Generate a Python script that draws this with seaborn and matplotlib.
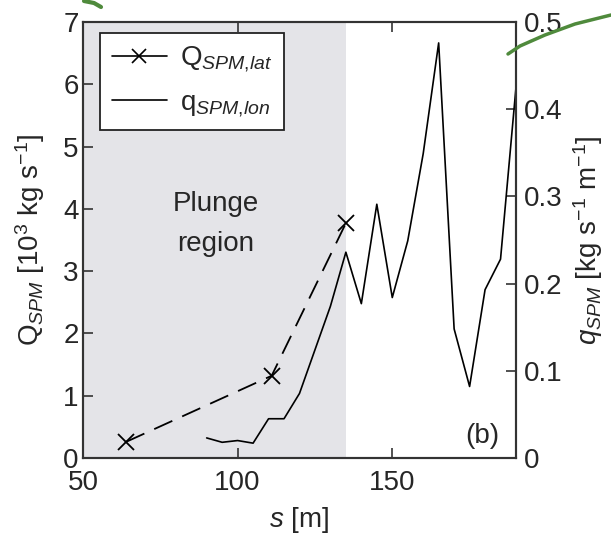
import numpy as np
import pandas as pd
import matplotlib
matplotlib.use('Agg')
import matplotlib.pyplot as plt
import matplotlib.ticker as ticker
from matplotlib.lines import Line2D
import seaborn as sns

# ==========================================
# Data
# ==========================================
# lateral SPM input Q_SPM,lat  [10^3 kg s^-1]
s_lat = [64, 111, 135]
Q_lat = [0.26, 1.32, 3.77]

# longitudinal SPM flux q_SPM,lon  [kg s^-1 m^-1]
s_lon = [90, 95, 100, 105, 110, 115, 120, 130, 135, 140,
         145, 150, 155, 160, 165, 170, 175, 180, 185, 190]
q_lon = [0.023, 0.018, 0.020, 0.017, 0.045, 0.045, 0.074, 0.174, 0.236, 0.177,
         0.291, 0.184, 0.249, 0.349, 0.476, 0.148, 0.082, 0.193, 0.228, 0.425]

plunge_start, plunge_end = 50, 135
left_ticks = [0, 1, 2, 3, 4, 5, 6, 7]
right_ticks = [0, 0.1, 0.2, 0.3, 0.4, 0.5]
x_ticks = [50, 100, 150]

lat_df = pd.DataFrame({'s': s_lat, 'Q': Q_lat})

# ==========================================
# Style
# ==========================================
sns.set_theme(style='ticks')
plt.rcParams['font.family'] = ['Liberation Sans', 'DejaVu Sans']
plt.rcParams['mathtext.fontset'] = 'custom'
plt.rcParams['mathtext.rm'] = 'Liberation Sans'
plt.rcParams['mathtext.it'] = 'Liberation Sans:italic'
plt.rcParams['mathtext.bf'] = 'Liberation Sans:bold'
FS = 20
EDGE = '#333333'

fig = plt.figure(figsize=(6.11, 5.39), dpi=100)
ax = fig.add_axes([0.1358, 0.1503, 0.7087, 0.8089])
ax2 = ax.twinx()

# plunge region shading
ax.axvspan(plunge_start, plunge_end, color='#e4e4e8', lw=0, zorder=0)

sns.lineplot(data=lat_df, x='s', y='Q', ax=ax, color='black', lw=1.3,
             marker='x', markersize=11, markeredgewidth=1.3,
             markeredgecolor='black', errorbar=None)
ax.lines[-1].set_dashes((11, 6))

# sns.lineplot on the twin axis wipes the shared x ticks, so plain plot here
ax2.plot(s_lon, q_lon, color='black', lw=1.2)

ax.set_xlim(50, 190)
ax.set_ylim(0, 7)
ax2.set_ylim(0, 0.5)
ax.set_xticks(x_ticks)
ax.set_yticks(left_ticks)
ax2.set_yticks(right_ticks)
ax2.yaxis.set_major_formatter(ticker.FuncFormatter(lambda v, p: '0' if v == 0 else f'{v:.1f}'))

ax.xaxis.set_ticks_position('both')
ax.tick_params(axis='x', which='major', direction='in', length=7, width=1.2,
               top=True, bottom=True, labelsize=FS, pad=9, color=EDGE)
ax.tick_params(axis='y', which='major', direction='in', length=7, width=1.2,
               left=True, right=False, labelsize=FS, pad=3, color=EDGE)
ax2.tick_params(axis='y', which='major', direction='in', length=7, width=1.2,
                right=True, labelsize=FS, pad=6, color=EDGE)

for a in (ax, ax2):
    for sp in a.spines.values():
        sp.set_linewidth(1.5)
        sp.set_color(EDGE)

ax.set_xlabel(r'$s$ [m]', fontsize=FS, labelpad=6)
ax.set_ylabel(r'Q$_{SPM}$ [10$^3$ kg s$^{-1}$]', fontsize=FS, labelpad=12)
ax2.set_ylabel(r'$q_{SPM}$ [kg s$^{-1}$ m$^{-1}$]', fontsize=FS, labelpad=6)

ax.text(93, 3.75, 'Plunge\nregion', fontsize=FS, ha='center', va='center',
        linespacing=1.7)
ax.text(179, 0.36, '(b)', fontsize=FS, ha='center', va='center')

handles = [Line2D([], [], color='black', lw=1.2, marker='x', markersize=10,
                  markeredgewidth=1.2),
           Line2D([], [], color='black', lw=1.2)]
labels = [r'Q$_{SPM{,}lat}$', r'q$_{SPM{,}lon}$']
leg = ax2.legend(handles, labels, loc='upper left', bbox_to_anchor=(0.039, 0.975),
                 borderaxespad=0, fontsize=FS, handlelength=2.0, handletextpad=0.45,
                 fancybox=False, framealpha=1, edgecolor='#222222',
                 borderpad=0.42, labelspacing=0.55)
leg.get_frame().set_linewidth(1.3)

# green pen strokes on the original slide
W, H = 611, 539
curve_px = [(508, 54), (520, 46), (545, 35), (575, 24), (611, 15)]
fig.add_artist(Line2D([p[0] / W for p in curve_px], [1 - p[1] / H for p in curve_px],
                      color='#4f8a3c', lw=2.5))
arrow_px = [(84, 1), (94, 3), (101, 7)]
fig.add_artist(Line2D([p[0] / W for p in arrow_px], [1 - p[1] / H for p in arrow_px],
                      color='#4f8a3c', lw=3))

fig.savefig('out.png', dpi=100)
